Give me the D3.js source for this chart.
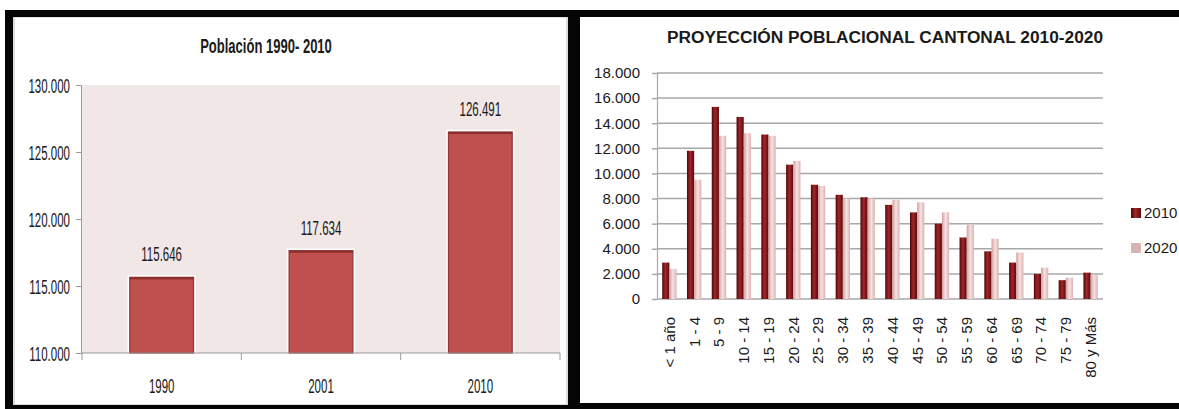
<!DOCTYPE html>
<html><head><meta charset="utf-8">
<script src="https://cdn.jsdelivr.net/npm/d3@7"></script>
<style>body{margin:0;background:#fff;} svg{display:block}</style>
</head><body><svg id="c" width="1179" height="409"></svg>
<script>
// ---- data ----
const years = ["1990", "2001", "2010"];
const pop = [115646, 117634, 126491];
const popTicks = [110000, 115000, 120000, 125000, 130000];

const ageGroups = ["< 1 año","1 - 4","5 - 9","10 - 14","15 - 19","20 - 24","25 - 29","30 - 34","35 - 39",
  "40 - 44","45 - 49","50 - 54","55 - 59","60 - 64","65 - 69","70 - 74","75 - 79","80 y Más"];
const proj2010 = [2900, 11800, 15300, 14500, 13100, 10700, 9100, 8300, 8100, 7500, 6900, 6000, 4900, 3800, 2900, 2000, 1500, 2100];
const proj2020 = [2400, 9500, 13000, 13200, 13000, 11000, 9000, 8000, 8000, 7900, 7700, 6900, 5900, 4800, 3700, 2500, 1700, 1900];
const projSeries = ["2010", "2020"];
const projTicks = [0, 2000, 4000, 6000, 8000, 10000, 12000, 14000, 16000, 18000];

const loc = d3.formatLocale({decimal: ",", thousands: ".", grouping: [3], currency: ["", ""]});
const fmt = loc.format(",d");

const svg = d3.select("#c");
const defs = svg.append("defs");

// ---- frame ----
svg.append("rect").attr("x", 0).attr("y", 0).attr("width", 1179).attr("height", 409).attr("fill", "#fff");
svg.append("rect").attr("x", 14).attr("y", 17).attr("width", 553).attr("height", 388)
  .attr("fill", "#fff").attr("stroke", "#bbb").attr("stroke-width", 1);
const black = "#050505";
svg.append("rect").attr("x", 5).attr("y", 10).attr("width", 1174).attr("height", 7).attr("fill", black);
svg.append("rect").attr("x", 5).attr("y", 10).attr("width", 8).attr("height", 399).attr("fill", black);
svg.append("rect").attr("x", 568).attr("y", 10).attr("width", 12).attr("height", 399).attr("fill", black);
svg.append("rect").attr("x", 5).attr("y", 405).attr("width", 575).attr("height", 4).attr("fill", black);
svg.append("rect").attr("x", 580).attr("y", 403).attr("width", 599).attr("height", 6).attr("fill", black);

// ---- left chart ----
const L = {x0: 82, x1: 560, y0: 85, y1: 353};
const sxL = 0.59;
const fsL = 19.5;
const condFont = "'Liberation Sans', Arial, sans-serif";
const gL = svg.append("g");
gL.append("rect").attr("x", L.x0).attr("y", L.y0).attr("width", L.x1 - L.x0).attr("height", L.y1 - L.y0)
  .attr("fill", "#f2e7e7");

const xL = d3.scaleBand().domain(years).range([L.x0, L.x1]).paddingInner(0.6).paddingOuter(0.3);
const yL = d3.scaleLinear().domain([110000, 130000]).range([L.y1, L.y0]);

function ctext(g, x, y, str, size, sx, anchor, weight) {
  return g.append("text").attr("transform", `translate(${x},${y}) scale(${sx},1)`)
    .attr("text-anchor", anchor).attr("font-family", condFont).attr("font-size", size)
    .attr("font-weight", weight || "normal").attr("fill", "#1a1a1a").text(str);
}

ctext(gL, 266, 53, "Población 1990- 2010", 21, 0.62, "middle", "bold");

// y axis
const yAxL = gL.append("g").attr("transform", `translate(${L.x0 - 1},0)`)
  .call(d3.axisLeft(yL).tickValues(popTicks).tickFormat(fmt).tickSize(5).tickPadding(0));
yAxL.select(".domain").attr("stroke", "#9a9a9a");
yAxL.selectAll(".tick line").attr("stroke", "#9a9a9a");
yAxL.selectAll(".tick text").attr("x", null)
  .attr("transform", `translate(-11,0) scale(${sxL},1)`)
  .attr("font-family", condFont).attr("font-size", fsL).attr("fill", "#1a1a1a").attr("dy", "0.36em");

// bars (white halo, fill, darker edge)
gL.selectAll("rect.halo").data(years).join("rect").attr("class", "halo")
  .attr("x", d => xL(d) - 1.5).attr("width", xL.bandwidth() + 3)
  .attr("y", (d, i) => yL(pop[i]) - 1.5).attr("height", (d, i) => yL(110000) - yL(pop[i]) + 1.5)
  .attr("fill", "none").attr("stroke", "#ffffff").attr("stroke-width", 1.5);
gL.selectAll("rect.bar").data(years).join("rect").attr("class", "bar")
  .attr("x", d => xL(d)).attr("width", xL.bandwidth())
  .attr("y", (d, i) => yL(pop[i])).attr("height", (d, i) => yL(110000) - yL(pop[i]))
  .attr("fill", "#c0504d").attr("stroke", "#8f3533").attr("stroke-width", 1.2);
gL.selectAll("rect.bartop").data(years).join("rect").attr("class", "bartop")
  .attr("x", d => xL(d)).attr("width", xL.bandwidth())
  .attr("y", (d, i) => yL(pop[i])).attr("height", 2).attr("fill", "#8a2e2c");

// value labels
years.forEach((d, i) => {
  ctext(gL, xL(d) + xL.bandwidth() / 2, yL(pop[i]) - 16, fmt(pop[i]), fsL, sxL, "middle");
});

// x axis
gL.append("line").attr("x1", L.x0 - 1).attr("x2", L.x1).attr("y1", L.y1).attr("y2", L.y1)
  .attr("stroke", "#9a9a9a");
d3.range(years.length + 1).forEach(i => {
  const xx = L.x0 + i * xL.step();
  gL.append("line").attr("x1", xx).attr("x2", xx).attr("y1", L.y1).attr("y2", L.y1 + 7)
    .attr("stroke", "#9a9a9a");
});
years.forEach(d => ctext(gL, xL(d) + xL.bandwidth() / 2, 393, d, fsL, sxL, "middle"));

// ---- right chart ----
const R = {x0: 657, x1: 1103, y0: 73, y1: 299};
const font = "'Liberation Sans', Arial, sans-serif";
const gR = svg.append("g");
const xR = d3.scaleBand().domain(ageGroups).range([R.x0, R.x1]).paddingInner(0.42).paddingOuter(0.21);
const xS = d3.scaleBand().domain(projSeries).range([0, xR.bandwidth()]);
const yR = d3.scaleLinear().domain([0, 18000]).range([R.y1, R.y0]);

gR.append("text").attr("x", 885).attr("y", 43).attr("text-anchor", "middle")
  .attr("font-family", font).attr("font-size", 16).attr("font-weight", "bold").attr("fill", "#1a1a1a")
  .attr("textLength", 436).attr("lengthAdjust", "spacingAndGlyphs")
  .text("PROYECCIÓN POBLACIONAL CANTONAL 2010-2020");

const g1 = defs.append("linearGradient").attr("id", "g2010");
[["0%", "#4e0709"], ["45%", "#a2262a"], ["100%", "#5a0a0c"]].forEach(s =>
  g1.append("stop").attr("offset", s[0]).attr("stop-color", s[1]));
const g2 = defs.append("linearGradient").attr("id", "g2020");
[["0%", "#d39e9e"], ["50%", "#f6e2e2"], ["100%", "#dcb2b2"]].forEach(s =>
  g2.append("stop").attr("offset", s[0]).attr("stop-color", s[1]));

const yAxR = gR.append("g").attr("transform", `translate(${R.x0},0)`)
  .call(d3.axisLeft(yR).tickValues(projTicks).tickFormat(fmt).tickSize(5).tickPadding(12));
yAxR.select(".domain").attr("stroke", "#a8a8a8").attr("stroke-width", 1.2);
yAxR.selectAll(".tick line").attr("stroke", "#a8a8a8").attr("stroke-width", 1.5);
yAxR.selectAll(".tick text").attr("font-family", font).attr("font-size", 15).attr("fill", "#1a1a1a");

gR.selectAll("line.grid").data(projTicks).join("line").attr("class", "grid")
  .attr("x1", R.x0).attr("x2", R.x1).attr("y1", d => yR(d)).attr("y2", d => yR(d))
  .attr("stroke", "#a8a8a8").attr("stroke-width", 1.5);

const grp = gR.selectAll("g.grp").data(ageGroups).join("g").attr("class", "grp")
  .attr("transform", d => `translate(${xR(d)},0)`);
grp.append("rect").attr("x", xS("2010")).attr("width", xS.bandwidth())
  .attr("y", (d, i) => yR(proj2010[i])).attr("height", (d, i) => yR(0) - yR(proj2010[i]))
  .attr("fill", "url(#g2010)");
grp.append("rect").attr("x", xS("2020")).attr("width", xS.bandwidth())
  .attr("y", (d, i) => yR(proj2020[i])).attr("height", (d, i) => yR(0) - yR(proj2020[i]))
  .attr("fill", "url(#g2020)");

ageGroups.forEach(d => {
  gR.append("text").attr("transform", `translate(${xR(d) + xR.bandwidth() / 2},317) rotate(-90)`)
    .attr("text-anchor", "end").attr("dy", "0.36em").attr("font-family", font).attr("font-size", 15)
    .attr("fill", "#1a1a1a").text(d);
});

// legend
const legY = [213, 248];
projSeries.forEach((s, i) => {
  gR.append("rect").attr("x", 1131).attr("y", legY[i] - 5).attr("width", 10).attr("height", 10)
    .attr("fill", i === 0 ? "url(#g2010)" : "#dcb3b3");
  gR.append("text").attr("x", 1144).attr("y", legY[i]).attr("dy", "0.36em")
    .attr("font-family", font).attr("font-size", 15).attr("fill", "#1a1a1a").text(s);
});
</script></body></html>
